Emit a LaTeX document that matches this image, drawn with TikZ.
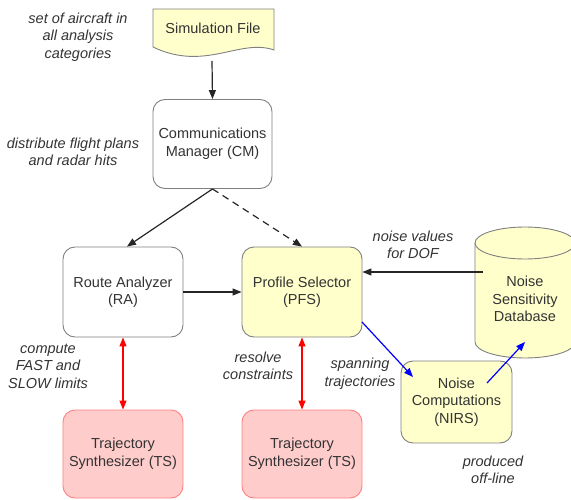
\documentclass[tikz,border=0pt]{standalone}
\usepackage{fontspec}
\setmainfont{Liberation Sans}
\usetikzlibrary{arrows.meta,calc}
\definecolor{yfill}{HTML}{FFFFCC}
\definecolor{pfill}{HTML}{FFCCCC}
\definecolor{pdraw}{HTML}{FF8080}
\definecolor{gdraw}{HTML}{808080}
\definecolor{txt}{HTML}{333333}
\tikzset{
  box/.style={draw=gdraw, line width=0.9pt, rounded corners=12pt, align=center,
    text=txt, font=\fontsize{14.5}{17.5}\selectfont, inner sep=0pt},
  wbox/.style={box, fill=white, minimum width=119pt, minimum height=89pt},
  ybox/.style={box, fill=yfill, minimum width=120pt, minimum height=90pt},
  tsbox/.style={box, draw=pdraw, fill=pfill, minimum width=120pt, minimum height=88pt},
  lbl/.style={align=center, text=txt, font=\fontsize{14.5}{17.5}\selectfont\itshape, inner sep=0pt},
  arr/.style={line width=1.2pt, draw=black!85, -{Triangle[length=9pt,width=7pt]}},
  barr/.style={line width=1.2pt, draw=blue, -{Triangle[length=9pt,width=7pt]}},
  rarr/.style={line width=1.2pt, draw=red, {Triangle[length=9pt,width=7pt]}-{Triangle[length=9pt,width=7pt]}},
}
\begin{document}
\begin{tikzpicture}[x=1pt,y=-1pt]
\useasboundingbox (0,0) rectangle (571,500);
% Simulation File (document shape)
\draw[draw=gdraw, fill=yfill, line width=0.9pt]
  (153,9) -- (274,9) -- (274,50) .. controls (240,38) and (205,72) .. (153,47) -- cycle;
\node[text=txt, font=\fontsize{14.5}{17.5}\selectfont, inner sep=0pt] (sim) at (213,28) {Simulation File};
\coordinate (simb) at (212,61);
% boxes
\node[wbox] (cm) at (212.5,144) {Communications\\Manager (CM)};
\node[wbox, minimum width=120pt, minimum height=90pt] (ra) at (123,292) {Route Analyzer\\(RA)};
\node[ybox] (pfs) at (302,292) {Profile Selector\\(PFS)};
\node[tsbox] (ts1) at (123,454) {Trajectory\\Synthesizer (TS)};
\node[tsbox] (ts2) at (302,454) {Trajectory\\Synthesizer (TS)};
\node[ybox, minimum width=111pt, minimum height=82pt] (nirs) at (456.5,402) {Noise\\Computations\\(NIRS)};
% cylinder
\fill[yfill] (475,243) -- (475,342) arc[start angle=180,end angle=0,x radius=50,y radius=16]
  -- (575,243) arc[start angle=0,end angle=-180,x radius=50,y radius=16] -- cycle;
\draw[gdraw, line width=0.9pt] (475,243) -- (475,342) arc[start angle=180,end angle=0,x radius=50,y radius=16] -- (575,243);
\draw[gdraw, line width=0.9pt] (525,243) ellipse[x radius=50,y radius=16];
\node[text=txt, align=center, font=\fontsize{14.5}{17.5}\selectfont, inner sep=0pt] (nsd) at (525,299) {Noise\\Sensitivity\\Database};
% connector endpoints
\coordinate (nsdl) at (483,272);
\coordinate (nsdin) at (525,342);
\coordinate (nirsin) at (487,383);
\coordinate (pfsr) at (362,322);
\coordinate (nirst) at (413,377);
% arrows
\draw[arr] (simb) -- (cm.north);
\draw[arr] (cm.south) -- (ra.north -| 127,0);
\draw[arr, dashed, dash pattern=on 7pt off 5pt] (cm.south) -- (pfs.north);
\draw[arr] (ra.east) -- (pfs.west);
\draw[arr] (nsdl) -- (pfs.east |- nsdl);
\draw[barr] (pfsr) -- (nirst);
\draw[barr] (nirsin) -- (nsdin);
\draw[rarr] (ra.south) -- (ts1.north);
\draw[rarr] (pfs.south) -- (ts2.north);
% labels
\node[lbl] (l1) at (78,37) {set of aircraft in\\all analysis\\categories};
\node[lbl] (l2) at (73,152) {distribute flight plans\\and radar hits};
\node[lbl] (l3) at (413,245) {noise values\\for DOF};
\node[lbl] (l4) at (48,366) {compute\\FAST and\\SLOW limits};
\node[lbl] (l5) at (258,366) {resolve\\constraints};
\node[lbl] (l6) at (360,374) {spanning\\trajectories};
\node[lbl] (l7) at (493,470) {produced\\off-line};
\end{tikzpicture}
\end{document}
